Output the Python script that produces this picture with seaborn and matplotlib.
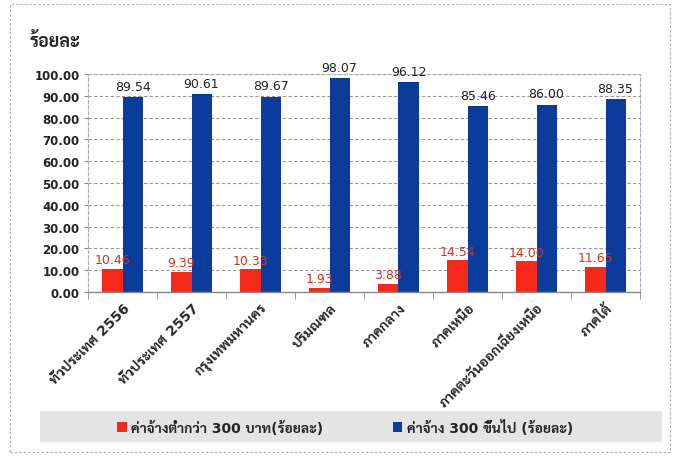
import matplotlib
matplotlib.use('Agg')
import pandas as pd
import matplotlib.pyplot as plt
import seaborn as sns
from matplotlib.patches import Rectangle

# chart data
regions = ['ทั่วประเทศ 2556', 'ทั่วประเทศ 2557', 'กรุงเทพมหานคร', 'ปริมณฑล',
           'ภาคกลาง', 'ภาคเหนือ', 'ภาคตะวันออกเฉียงเหนือ', 'ภาคใต้']
below_300 = [10.46, 9.39, 10.33, 1.93, 3.88, 14.54, 14.00, 11.65]
above_300 = [89.54, 90.61, 89.67, 98.07, 96.12, 85.46, 86.00, 88.35]
series = ['ค่าจ้างต่ำกว่า 300 บาท(ร้อยละ)', 'ค่าจ้าง 300 ขึ้นไป (ร้อยละ)']
yticks = [0, 10, 20, 30, 40, 50, 60, 70, 80, 90, 100]

df = pd.DataFrame({
    'region': regions * 2,
    'value': below_300 + above_300,
    'series': [series[0]] * len(regions) + [series[1]] * len(regions),
})

sns.set_style('white')
plt.rcParams['font.family'] = ['DejaVu Sans', 'Sarabun']

red = '#f5281a'
blue = '#0b3c9c'

fig = plt.figure(figsize=(6.79, 4.6), dpi=100)
ax = fig.add_axes([88 / 679, 1 - 293 / 460, 552 / 679, 218 / 460])

sns.barplot(data=df, x='region', y='value', hue='series', palette=[red, blue],
            width=0.58, gap=0, saturation=1, linewidth=0, ax=ax, errorbar=None)

# value labels
ax.bar_label(ax.containers[0], fmt='%.2f', padding=2, color='#d8301e', fontsize=9)
ax.bar_label(ax.containers[1], fmt='%.2f', padding=3, color='#222222', fontsize=9)

ax.set_ylim(0, 100)
ax.set_yticks(yticks)
ax.set_yticklabels(['%.2f' % v for v in yticks], fontsize=8.5, fontweight='bold',
                   color='#222222')
ax.set_xlim(-0.5, len(regions) - 0.5)
ax.set_xlabel('')
ax.set_ylabel('')
ax.grid(axis='y', color='#999999', linestyle=(0, (3, 2)), linewidth=0.8)
ax.set_axisbelow(True)

# ticks between categories
ax.set_xticks(range(len(regions)))
ax.set_xticklabels(regions, rotation=45, ha='right', rotation_mode='anchor',
                   fontsize=10, fontweight='bold')
ax.set_xticks([i - 0.5 for i in range(len(regions) + 1)], minor=True)
ax.tick_params(axis='x', which='major', length=0, pad=6)
ax.tick_params(axis='x', which='minor', length=5, color='#888888', direction='out', bottom=True)
ax.tick_params(axis='y', length=3, color='#888888', direction='out', left=True, pad=3)

for side in ['top', 'right', 'left']:
    ax.spines[side].set_color('#aaaaaa')
    ax.spines[side].set_linestyle((0, (3, 2)))
    ax.spines[side].set_linewidth(0.8)
ax.spines['bottom'].set_color('#888888')
ax.spines['bottom'].set_linewidth(1.0)

# title
fig.text(30 / 679, 1 - 42 / 460, 'ร้อยละ', fontsize=13, fontweight='bold', va='center', ha='left')

# legend band + legend
fig.patches.append(Rectangle((40 / 679, 1 - 443 / 460), 622 / 679, 31 / 460,
                             transform=fig.transFigure, facecolor='#e4e4e4',
                             edgecolor='none', zorder=0))
handles, labels = ax.get_legend_handles_labels()
ax.get_legend().remove()
fig.legend(handles, labels, loc='center', bbox_to_anchor=(345 / 679, 1 - 428 / 460),
           ncol=2, frameon=False, prop={'size': 10, 'weight': 'bold'},
           handlelength=0.7, handleheight=0.7, handletextpad=0.3, columnspacing=5.0)

# outer border
fig.patches.append(Rectangle((10 / 679, 1 - 453 / 460), 660 / 679, 448 / 460,
                             transform=fig.transFigure, facecolor='none',
                             edgecolor='#aaaaaa', linestyle=(0, (2, 2)), linewidth=0.8))

fig.savefig('out.png', dpi=100)
